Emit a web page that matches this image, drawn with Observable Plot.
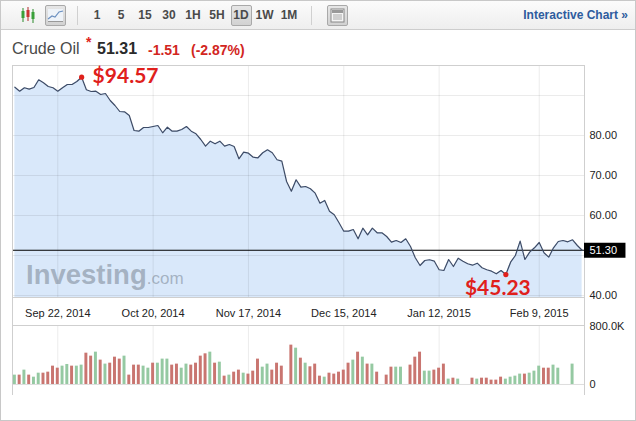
<!DOCTYPE html>
<html><head><meta charset="utf-8">
<script src="https://cdn.jsdelivr.net/npm/d3@7"></script>
<script src="https://cdn.jsdelivr.net/npm/@observablehq/plot@0.6"></script>
<style>
html,body{margin:0;padding:0;background:#fff}
#wrap{position:relative;width:636px;height:421px;overflow:hidden;background:#fff;font-family:"Liberation Sans",Arial,sans-serif}
#border{position:absolute;left:0;top:0;width:636px;height:421px;box-sizing:border-box;border:1px solid #c8c8c8;pointer-events:none;z-index:10}
#toolbar{position:absolute;left:0;top:0;width:636px;height:30px;background:linear-gradient(#fcfcfc,#eeeeee);border-bottom:1px solid #cdcdcd;box-sizing:border-box}
.tb{position:absolute;top:7px;width:24px;height:16px;line-height:16px;font-size:12px;font-weight:bold;color:#4a4a4a;text-align:center}
.btn{position:absolute;top:5px;height:21px;box-sizing:border-box;border:1px solid #a9a9a9;border-radius:2px;background:linear-gradient(#e6e6e6,#d2d2d2)}
.sep{position:absolute;top:6px;width:1px;height:19px;background:#d0d0d0}
#ic{position:absolute;right:8px;top:7px;font-size:12px;font-weight:bold;color:#2e5c9e;line-height:16px}
.h{position:absolute;white-space:nowrap;font-weight:bold}
.plot{position:absolute;left:0}
#wm{position:absolute;left:26px;top:261px;line-height:28px;white-space:nowrap;color:rgba(120,132,146,0.55);z-index:5}
</style></head>
<body>
<div id="wrap">
  <div id="toolbar">
    <svg width="18" height="18" style="position:absolute;left:19px;top:6px">
      <line x1="4" y1="2" x2="4" y2="16" stroke="#2a8a2a"/><rect x="2.5" y="5" width="3" height="7" fill="#3aa03a"/>
      <line x1="9" y1="1" x2="9" y2="15" stroke="#b02a2a"/><rect x="7.5" y="4" width="3" height="7" fill="#cc3333"/>
      <line x1="14" y1="3" x2="14" y2="17" stroke="#2a8a2a"/><rect x="12.5" y="6" width="3" height="7" fill="#3aa03a"/>
    </svg>
    <div class="btn" style="left:45px;width:21px">
      <svg width="19" height="19" style="position:absolute;left:0;top:0">
        <rect x="2" y="3" width="15" height="12" fill="#eef3f9"/>
        <polyline points="2,13 6,10 9,11 13,6 17,5" fill="none" stroke="#6a8fc0" stroke-width="1.2"/>
        <line x1="2" y1="15.5" x2="17" y2="15.5" stroke="#999"/>
      </svg>
    </div>
    <div class="sep" style="left:77px"></div>
    <div class="btn" style="left:231px;width:21px"></div>
    <div class="sep" style="left:311px"></div>
    <div class="btn" style="left:327px;width:21px">
      <svg width="19" height="19" style="position:absolute;left:0;top:0">
        <rect x="3" y="3" width="13" height="13" fill="#f4f4f4" stroke="#888"/>
        <rect x="4" y="4" width="11" height="3" fill="#999"/>
        <line x1="5" y1="9" x2="14" y2="9" stroke="#aaa"/><line x1="5" y1="11" x2="14" y2="11" stroke="#aaa"/><line x1="5" y1="13" x2="14" y2="13" stroke="#aaa"/>
      </svg>
    </div>
    <div id="tbtext"></div>
    <div id="ic">Interactive Chart »</div>
  </div>
  <div class="h" style="left:12px;top:39px;font-size:16px;line-height:20px;font-weight:normal;color:#4a4a4a">Crude Oil</div>
  <div class="h" style="left:86px;top:35px;font-size:14px;line-height:14px;color:#e0241c">*</div>
  <div class="h" id="lastv" style="left:97px;top:39px;font-size:16px;line-height:20px;color:#2a2a2a"></div>
  <div class="h" id="chg" style="left:148px;top:41px;font-size:14px;line-height:18px;color:#d2261e"></div>
  <div class="h" id="pct" style="left:191px;top:41px;font-size:14px;line-height:18px;color:#d2261e"></div>
  <div id="pricePlot" class="plot" style="top:55px"></div>
  <div id="volPlot" class="plot" style="top:318px"></div>
  <div id="wm"><span style="font-size:27.5px;font-weight:bold">Investing</span><span style="font-size:17px">.com</span></div>
  <div id="border"></div>
</div>
<script>
// ---- data ----
const timeframes = ["1", "5", "15", "30", "1H", "5H", "1D", "1W", "1M"];
const quoteLast = 51.31, quoteChange = -1.51, quotePct = -2.87;
const lastLinePrice = 51.30;

// daily closes, one per weekday slot (Sep 9, 2014 .. Feb 20, 2015)
const prices = [
  92.07,91.07,91.93,91.58,92.0,93.93,93.18,92.25,91.93,91.07,91.93,92.75,92.75,93.5,94.57,91.43,91.0,91.07,90.25,90.5,88.75,87.5,86.0,85.93,85.0,81.25,81.08,82.0,82.0,
  82.25,82.5,80.68,82.08,81.08,81.08,81.5,82.25,81.08,80.43,79.0,77.33,78.58,77.93,78.58,77.33,77.75,77.25,74.18,75.83,75.58,74.58,74.43,75.68,76.43,75.68,73.93,73.58,
  68.5,66.08,68.93,67.08,67.25,66.68,65.58,63.08,63.75,61.08,60.18,58.18,56.08,56.08,56.5,54.18,56.83,55.18,56.83,55.68,55.68,54.75,53.33,53.75,53.25,54.18,52.25,49.43,47.5,48.75,48.93,48.58,46.43,
  46.25,49.0,47.25,49.33,48.58,47.93,47.58,48.08,46.93,46.43,46.08,45.43,46.25,45.23,48.33,50.0,53.58,49.0,50.83,51.93,53.25,50.68,49.58,51.93,53.5,53.75,53.42,53.92,52.5,51.31
];
// volume in thousands (null = no bar)
const volumes = [
  129,129,198,129,101,156,156,170,253,225,253,276,253,253,267,432,391,446,336,281,294,377,350,391,129,267,267,253,225,294,
  294,350,350,267,281,225,281,267,294,391,423,446,294,308,115,129,170,198,156,143,184,350,239,281,198,294,253,null,543,501,
  363,294,244,281,115,101,156,143,170,198,294,336,446,377,281,281,170,null,129,239,239,239,null,267,377,446,184,184,198,225,
  281,74,87,74,null,null,87,74,87,87,60,60,101,74,101,115,143,143,156,184,253,225,225,267,225,null,null,281,null,null
];
// bar direction: G = up, R = down
const volDir = (
  "GRGRGGRRRRGGRGGRRGRGRRRGRRRGGRGGGRRGGRRRRGRGRGRRGRRRGGRRR-RG" +
  "RGRRRGRRRRRGRGRGR-RRGG-RRRGGRRRGRG--RGRRRRRGGGGRGGGRRGG--G--"
).split("");

const tickSlots = [9, 29, 49, 69, 89, 110];
const tickLabels = ["Sep 22, 2014", "Oct 20, 2014", "Nov 17, 2014", "Dec 15, 2014", "Jan 12, 2015", "Feb 9, 2015"];
const priceTicks = [80, 70, 60, 40];
const priceGrid = [40, 50, 60, 70, 80, 90];
const volTicks = [0, 800];
const highSlot = 14, lowSlot = 103;

// ---- build ----
const tbtext = document.getElementById("tbtext");
const centers = [97, 121, 145, 169, 193, 217, 241, 264.5, 289];
timeframes.forEach((t, i) => {
  const s = document.createElement("div");
  s.className = "tb"; s.textContent = t; s.style.left = (centers[i] - 12) + "px";
  tbtext.appendChild(s);
});
document.getElementById("lastv").textContent = quoteLast.toFixed(2);
document.getElementById("chg").textContent = quoteChange.toFixed(2);
document.getElementById("pct").textContent = "(" + quotePct.toFixed(2) + "%)";

const series = prices.map((p, i) => ({slot: i, price: p}));
const bars = volumes.map((v, i) => ({slot: i, vol: v, dir: volDir[i]})).filter(d => d.vol != null);
const extremes = [series[highSlot], series[lowSlot]];
const labelOf = new Map(tickSlots.map((s, i) => [s, tickLabels[i]]));
const red = "#e0201b";
const xDom = [-0.5, 119.5];
const yMin = 39.5, yMax = 97.5;
const style = {fontFamily: "Liberation Sans, Arial, sans-serif", fontSize: "11px", color: "#333", background: "transparent", overflow: "visible"};

const pricePlot = Plot.plot({
  width: 636, height: 272,
  marginTop: 10, marginBottom: 30, marginLeft: 12, marginRight: 52,
  x: {domain: xDom, label: null},
  y: {domain: [yMin, yMax], label: null},
  style,
  marks: [
    Plot.areaY(series, {x: "slot", y1: yMin, y2: "price", fill: "#d9e8fa"}),
    Plot.ruleY(priceGrid, {stroke: "#000", strokeOpacity: 0.08}),
    Plot.ruleX(tickSlots, {y1: yMin, y2: yMax, stroke: "#000", strokeOpacity: 0.08}),
    Plot.ruleY([lastLinePrice], {stroke: "#000", strokeWidth: 1.1}),
    Plot.lineY(series, {x: "slot", y: "price", stroke: "#3d4b66", strokeWidth: 1.2}),
    Plot.frame({stroke: "#cfcfcf"}),
    Plot.ruleX([xDom[0], xDom[1]], {y1: 32, y2: yMin, stroke: "#cfcfcf"}),
    Plot.axisX({ticks: tickSlots, tickFormat: d => labelOf.get(d), tickSize: 0, tickPadding: 12, label: null, fill: "#222"}),
    Plot.axisY({anchor: "right", ticks: priceTicks, tickFormat: d => d.toFixed(2), tickSize: 0, tickPadding: 5, label: null, fill: "#222"}),
    Plot.ruleY([lastLinePrice], {x1: xDom[1], x2: 128.2, stroke: "#000", strokeWidth: 15}),
    Plot.text([lastLinePrice], {x: xDom[1], y: d => d, text: d => d.toFixed(2), dx: 5, textAnchor: "start", fill: "#fff", fontSize: 11}),
    Plot.dot(extremes, {x: "slot", y: "price", r: 2.6, fill: red}),
    Plot.text([series[highSlot]], {x: "slot", y: "price", text: d => "$" + d.price.toFixed(2), dx: 11, dy: -1, textAnchor: "start", fill: red, fontSize: 21, fontWeight: "bold", fontFamily: "Lato"}),
    Plot.text([series[lowSlot]], {x: "slot", y: "price", text: d => "$" + d.price.toFixed(2), dx: -8, dy: 14, textAnchor: "middle", fill: red, fontSize: 21, fontWeight: "bold", fontFamily: "Lato"})
  ]
});
document.getElementById("pricePlot").appendChild(pricePlot);

const volPlot = Plot.plot({
  width: 636, height: 82,
  marginTop: 8, marginBottom: 5, marginLeft: 12, marginRight: 52,
  x: {domain: xDom, label: null},
  y: {domain: [-152, 800], label: null},
  style,
  marks: [
    Plot.ruleX(tickSlots, {y1: 0, y2: 814, stroke: "#000", strokeOpacity: 0.08}),
    Plot.ruleY([0], {x1: xDom[0], x2: xDom[1], stroke: "#dedede"}),
    Plot.ruleY([814], {x1: xDom[0], x2: xDom[1], stroke: "#cfcfcf"}),
    Plot.ruleX([xDom[0], xDom[1]], {y1: -152, y2: 814, stroke: "#cfcfcf"}),
    Plot.rectY(bars.filter(d => d.dir === "G"), {x1: d => d.slot - 0.31, x2: d => d.slot + 0.31, y: "vol", fill: "#95c9a2"}),
    Plot.rectY(bars.filter(d => d.dir === "R"), {x1: d => d.slot - 0.31, x2: d => d.slot + 0.31, y: "vol", fill: "#c97570"}),
    Plot.axisX({ticks: [], label: null}),
    Plot.axisY({anchor: "right", ticks: volTicks, tickFormat: d => d === 0 ? "0" : d.toFixed(1) + "K", tickSize: 0, tickPadding: 5, label: null, fill: "#222"})
  ]
});
document.getElementById("volPlot").appendChild(volPlot);
</script>
</body></html>
